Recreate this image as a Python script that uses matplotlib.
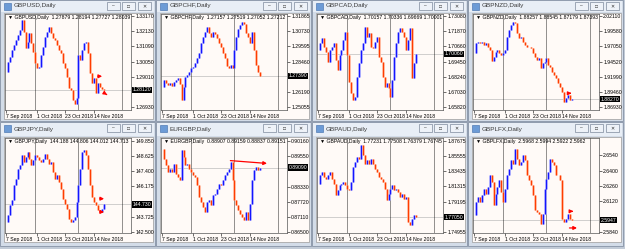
import matplotlib.pyplot as plt
from matplotlib.patches import Rectangle
from matplotlib.transforms import blended_transform_factory

plt.rcParams['font.family'] = ['Liberation Sans', 'DejaVu Sans']

# === DATOS (cierres diarios) ===
symbols = ['GBPUSD', 'GBPCHF', 'GBPCAD', 'GBPNZD', 'GBPJPY', 'EURGBP', 'GBPAUD', 'GBPLFX']

usd_close = [1.2937, 1.3005, 1.3039, 1.3085, 1.3119, 1.3153, 1.3187, 1.3221, 1.3290, 1.3210,
             1.3096, 1.3142, 1.3199, 1.3130, 1.3073, 1.2994, 1.2960, 1.2971, 1.3051, 1.3108,
             1.3176, 1.3210, 1.3240, 1.3199, 1.3164, 1.3153, 1.3119, 1.3085, 1.3062, 1.2994,
             1.2960, 1.2903, 1.2823, 1.2812, 1.2743, 1.2716, 1.2755, 1.3051, 1.3016, 1.3085,
             1.3130, 1.3142, 1.3062, 1.2925, 1.2857, 1.2891, 1.2789, 1.2857, 1.2830, 1.2816, 1.2812]
chf_close = [1.2655, 1.2709, 1.2690, 1.2672, 1.2685, 1.2665, 1.2697, 1.2709, 1.2722, 1.2680,
             1.2560, 1.2655, 1.2729, 1.2747, 1.2772, 1.2796, 1.2809, 1.2834, 1.2871, 1.2908,
             1.2983, 1.3032, 1.3070, 1.3102, 1.3057, 1.3032, 1.3070, 1.3052, 1.3020, 1.2983,
             1.2953, 1.2908, 1.2871, 1.2814, 1.2796, 1.2821, 1.2796, 1.2933, 1.3032, 1.3087,
             1.3119, 1.3144, 1.3127, 1.3057, 1.3028, 1.2983, 1.3070, 1.2933, 1.2821, 1.2772, 1.2739]
cad_close = [1.7038, 1.7091, 1.7130, 1.7064, 1.7024, 1.6945, 1.7038, 1.7064, 1.7091, 1.6958,
             1.6879, 1.6998, 1.7038, 1.7117, 1.7183, 1.6998, 1.6786, 1.6693, 1.6640, 1.6667,
             1.6826, 1.6932, 1.7038, 1.7091, 1.7223, 1.7144, 1.7170, 1.7064, 1.7051, 1.7104,
             1.7144, 1.6985, 1.6945, 1.6826, 1.6746, 1.6773, 1.6733, 1.6667, 1.6799, 1.6985,
             1.7091, 1.7183, 1.7210, 1.7183, 1.7144, 1.7038, 1.7117, 1.7210, 1.6812, 1.6932, 1.7006]
nzd_close = [1.9591, 1.9757, 1.9785, 1.9757, 1.9785, 1.9729, 1.9757, 1.9702, 1.9646, 1.9469,
             1.9535, 1.9618, 1.9646, 1.9591, 1.9563, 1.9591, 1.9646, 1.9868, 1.9978, 2.0062,
             2.0117, 2.0089, 1.9923, 1.9840, 1.9868, 1.9785, 1.9729, 1.9702, 1.9702, 1.9674,
             1.9591, 1.9535, 1.9480, 1.9508, 1.9342, 1.9425, 1.9452, 1.9508, 1.9397, 1.9369,
             1.9286, 1.9231, 1.9175, 1.9092, 1.9026, 1.8954, 1.8788, 1.8843, 1.8899, 1.8815, 1.8827]
jpy_close = [143.31, 143.85, 144.65, 145.06, 146.27, 146.81, 147.62, 147.89, 148.69, 148.15,
             148.56, 148.96, 148.42, 147.89, 148.29, 148.69, 148.56, 148.29, 148.15, 148.42,
             148.83, 148.42, 148.02, 148.15, 147.35, 146.81, 147.08, 146.54, 146.00, 145.19,
             144.79, 144.39, 143.58, 143.31, 143.44, 143.71, 144.92, 146.27, 147.62, 148.96,
             149.10, 148.69, 147.62, 146.27, 145.33, 144.92, 144.65, 144.25, 144.12, 144.33, 144.73]
eur_close = [0.8985, 0.8945, 0.8918, 0.8891, 0.8905, 0.8891, 0.8925, 0.8885, 0.8871, 0.8858,
             0.8979, 0.8952, 0.8918, 0.8925, 0.8905, 0.8891, 0.8878, 0.8871, 0.8838, 0.8791,
             0.8771, 0.8751, 0.8730, 0.8771, 0.8777, 0.8757, 0.8797, 0.8804, 0.8824, 0.8844,
             0.8838, 0.8858, 0.8878, 0.8891, 0.8905, 0.8932, 0.8858, 0.8777, 0.8757, 0.8737,
             0.8724, 0.8710, 0.8697, 0.8730, 0.8697, 0.8764, 0.8858, 0.8898, 0.8911, 0.8898, 0.8909]
aud_close = [1.8171, 1.8288, 1.8334, 1.8264, 1.8241, 1.8288, 1.8334, 1.8241, 1.8171, 1.8008,
             1.8078, 1.8148, 1.8171, 1.8194, 1.8148, 1.8101, 1.8078, 1.8194, 1.8404, 1.8474,
             1.8544, 1.8521, 1.8707, 1.8567, 1.8451, 1.8497, 1.8451, 1.8521, 1.8451, 1.8381,
             1.8334, 1.8264, 1.8241, 1.8194, 1.8101, 1.7938, 1.8031, 1.8101, 1.8148, 1.8078,
             1.8101, 1.8055, 1.7985, 1.8031, 1.7961, 1.7985, 1.7635, 1.7589, 1.7682, 1.7728, 1.7705]
lfx_close = [2.5992, 2.6114, 2.6160, 2.6114, 2.6175, 2.6236, 2.6190, 2.6251, 2.6357, 2.6297,
             2.6084, 2.6190, 2.6251, 2.6312, 2.6205, 2.6114, 2.6236, 2.6357, 2.6418, 2.6494,
             2.6464, 2.6601, 2.6510, 2.6449, 2.6479, 2.6540, 2.6494, 2.6357, 2.6312, 2.6266,
             2.6175, 2.6038, 2.6023, 2.6007, 2.5916, 2.6007, 2.6236, 2.6327, 2.6388, 2.6510,
             2.6479, 2.6449, 2.6357, 2.6357, 2.6312, 2.5962, 2.5931, 2.5962, 2.6007, 2.5962, 2.5947]
closes = [usd_close, chf_close, cad_close, nzd_close, jpy_close, eur_close, aud_close, lfx_close]

# cabecera OHLC de cada ventana
headers = ['1.27879 1.28194 1.27727 1.28039', '1.27157 1.27519 1.27052 1.27212',
           '1.70157 1.70336 1.69669 1.70001', '1.88257 1.88545 1.87179 1.87393',
           '144.188 144.806 144.012 144.713', '0.88907 0.89159 0.88837 0.89151',
           '1.77231 1.77508 1.76379 1.76745', '2.5968 2.5994 2.5922 2.5962']
decimals = [5, 5, 5, 5, 3, 5, 5, 4]

# escala de precios
price_ticks = [
    [1.33170, 1.32130, 1.31090, 1.30050, 1.29010, 1.27970, 1.26930],
    [1.31865, 1.30730, 1.29595, 1.28460, 1.27325, 1.26190, 1.25055],
    [1.73080, 1.71870, 1.70660, 1.69450, 1.68240, 1.67030, 1.65820],
    [2.02110, 1.99580, 1.97050, 1.94520, 1.91990, 1.89460, 1.86930],
    [149.850, 148.625, 147.400, 146.175, 144.950, 143.725, 142.500],
    [0.90160, 0.89550, 0.88940, 0.88330, 0.87720, 0.87110, 0.86500],
    [1.87675, 1.85555, 1.83435, 1.81315, 1.79195, 1.77075, 1.74955],
    [2.6540, 2.6400, 2.6260, 2.6120, 2.5980, 2.5840],
]
ylims = [(1.26746, 1.33307), (1.24854, 1.32014), (1.65605, 1.73239), (1.86481, 2.02443),
         (142.42, 150.09), (0.86460, 0.90281), (1.74815, 1.88094), (2.5831, 2.6698)]

# eje de fechas (posicion en barras)
date_pos = [0, 16, 30, 45]
date_labels = ['7 Sep 2018', '1 Oct 2018', '23 Oct 2018', '14 Nov 2018']

# flechas rojas dibujadas en los graficos (x0, y0, x1, y1)
arrows = {
    'GBPUSD': [(45.5, 1.2905, 50.5, 1.2905), (50.2, 1.2790, 52.8, 1.2768)],
    'GBPNZD': [(47.2, 1.8926, 51.2, 1.8926)],
    'GBPJPY': [(46.5, 145.19, 51.5, 145.19), (46.5, 144.12, 51.5, 144.12)],
    'EURGBP': [(33.5, 0.8938, 55.0, 0.8925)],
    'GBPLFX': [(48.1, 2.6029, 50.7, 2.6029), (47.3, 2.5877, 54.0, 2.5877)],
}

# === LAYOUT (pixeles) ===
W, H = 625, 249
col_x = [0, 156, 312, 468]
rows = [(0, 121, 14, 96), (122, 124, 138, 95)]   # ventana y, alto, grafico y, alto
chart_bg = '#FFFAF7'
up_col, dn_col = '#1414FF', '#FF3C00'
up_pale, dn_pale = '#B4B6FF', '#FFC4AC'

fig = plt.figure(figsize=(W / 100, H / 100), dpi=100)
fig.patch.set_facecolor('#C2CBD7')


def px_rect(x, y, w, h):
    return [x / W, 1 - (y + h) / H, w / W, h / H]


def add_box(x, y, w, h, **kw):
    r = px_rect(x, y, w, h)
    fig.add_artist(Rectangle((r[0], r[1]), r[2], r[3], transform=fig.transFigure,
                             zorder=-5, **kw))


for k, sym in enumerate(symbols):
    x0 = col_x[k % 4]
    wy, wh, py, ph = rows[k // 4]
    c = closes[k]

    # ventana + barra de titulo
    add_box(x0, wy, 155, wh, facecolor='#D3DCE8', edgecolor='#8793A6', lw=0.6)
    add_box(x0 + 1, wy + 1, 153, py - wy - 3, facecolor='#E8EEF6', edgecolor='none')
    add_box(x0 + 4, wy + 3, 7, 7, facecolor='#6C9BD6', edgecolor='#3C6AA8', lw=0.4)
    fig.text((x0 + 14) / W, 1 - (wy + (py - wy - 2) / 2) / H, f'{sym},Daily',
             fontsize=4.6, color='#3A3A3A', va='center', ha='left')
    for bx, g in zip((107, 122, 138), ('\u2013', '\u25a1', '\u2715')):
        add_box(x0 + bx, wy + 2, 13, 8, facecolor='#EEF2F8', edgecolor='#7D899C', lw=0.5)
        fig.text((x0 + bx + 6.5) / W, 1 - (wy + 6) / H, g, fontsize=3.5,
                 color='#333333', ha='center', va='center')

    # fondo del grafico
    add_box(x0 + 4, py - 1, 149, ph + 10, facecolor=chart_bg, edgecolor='#9A9A9A', lw=0.5)

    ax = fig.add_axes(px_rect(x0 + 5, py, 126, ph))
    ax.set_facecolor(chart_bg)
    ax.set_xlim(-0.5, 63.8)
    ax.set_ylim(*ylims[k])

    # barras: de un cierre al siguiente
    xs = list(range(1, len(c)))
    lo = [min(c[i - 1], c[i]) for i in xs]
    hi = [max(c[i - 1], c[i]) for i in xs]
    cols = [up_col if c[i] >= c[i - 1] else dn_col for i in xs]
    pale = [up_pale if c[i] >= c[i - 1] else dn_pale for i in xs]
    ax.vlines(xs, lo, hi, colors=pale, linewidth=1.9, zorder=2)
    ax.vlines(xs, lo, hi, colors=cols, linewidth=0.9, zorder=3)

    # linea de precio actual
    last = c[-1]
    ax.axhline(last, color='#BDBDBD', lw=0.5, zorder=1)
    for v in (14.8, 36.5, 59.0):
        ax.axvline(v, color='black', lw=0.6, ls=(0, (1.2, 1.2)), zorder=1)

    for (xa, ya, xb, yb) in arrows.get(sym, []):
        ax.annotate('', xy=(xb, yb), xytext=(xa, ya),
                    arrowprops=dict(arrowstyle='-|>', color='red', lw=0.9,
                                    mutation_scale=5), zorder=5)

    # eje de precios a la derecha
    ticks = price_ticks[k]
    step = abs(ticks[0] - ticks[1])
    shown = [t for t in ticks if abs(t - last) > 0.3 * step]
    ax.yaxis.tick_right()
    ax.set_yticks(shown)
    ax.set_yticklabels([f'{t:.{decimals[k]}f}' for t in shown])
    ax.tick_params(axis='y', labelsize=3.7, length=2, width=0.4, pad=1, colors='black')
    tr = blended_transform_factory(ax.transAxes, ax.transData)
    ax.text(1.012, last, f'{last:.{decimals[k]}f}', transform=tr, fontsize=3.7,
            color='white', va='center', ha='left', zorder=6,
            bbox=dict(boxstyle='square,pad=0.12', fc='black', ec='none'))

    ax.set_xticks(date_pos)
    ax.set_xticklabels(date_labels, ha='left')
    ax.tick_params(axis='x', labelsize=3.7, length=2, width=0.4, pad=1, colors='black')

    ax.text(0.02, 0.985, f'\u25bc {sym},Daily  {headers[k]}', transform=ax.transAxes,
            fontsize=3.7, va='top', ha='left', color='black')
    for s in ax.spines.values():
        s.set_color('#555555')
        s.set_linewidth(0.5)

plt.savefig('out.png', dpi=100, facecolor=fig.get_facecolor())
